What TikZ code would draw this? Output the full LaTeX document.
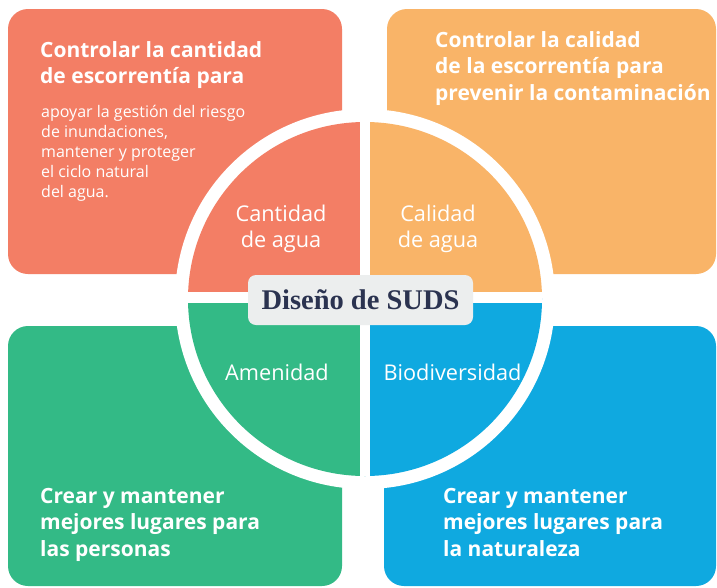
\documentclass[tikz,border=0pt]{standalone}
\usepackage{fontspec}
\setmainfont{Open Sans}
\newfontfamily\titlefont{Liberation Serif}
\definecolor{coral}{HTML}{F37E65}
\definecolor{amber}{HTML}{F9B468}
\definecolor{leaf}{HTML}{33BA86}
\definecolor{sky}{HTML}{0FA9E0}
\definecolor{pale}{HTML}{ECEEEE}
\definecolor{navy}{HTML}{2B3350}
\begin{document}
\begin{tikzpicture}[x=1pt,y=-1pt,
  panel/.style={rounded corners=20pt},
  headtext/.style={text=white, inner sep=0pt, align=left, anchor=base west,
    font=\bfseries\fontsize{21}{26.5}\selectfont},
  bodytext/.style={text=white, inner sep=0pt, align=left, anchor=base west,
    font=\fontsize{16}{20}\selectfont},
  quadtext/.style={text=white, inner sep=0pt, align=center, anchor=base,
    font=\fontsize{21.7}{26}\selectfont},
  titlebox/.style={fill=pale, rounded corners=8pt, minimum width=225pt,
    minimum height=50pt, inner sep=0pt, text=navy,
    font=\titlefont\bfseries\fontsize{28.5}{30}\selectfont}]
\useasboundingbox (0,0) rectangle (717,587);
\fill[white] (0,0) rectangle (717,587);
% outer panels
\fill[coral, panel] (8,9) rectangle (342,274);
\fill[amber, panel] (387,9) rectangle (716,274);
\fill[leaf, panel] (8,326) rectangle (342,586);
\fill[sky, panel] (384,326) rectangle (716,586);
% white ring
\fill[white] (365,299) circle[radius=190];
% quadrants
\begin{scope}
  \clip (365,299) circle[radius=177];
  \fill[coral] (365,298) rectangle (150,100);
  \fill[amber] (365,298) rectangle (580,100);
  \fill[leaf] (365,298) rectangle (150,500);
  \fill[sky] (365,298) rectangle (580,500);
  \fill[white] (360,100) rectangle (370,500);
  \fill[white] (150,292) rectangle (580,303);
\end{scope}
% texts (anchor = baseline of last line)
\node[headtext] (h1) at (40,83.5) {Controlar la cantidad\\de escorrentía para};
\node[bodytext] (b1) at (41,197) {apoyar la gestión del riesgo\\de inundaciones,\\mantener y proteger\\el ciclo natural\\del agua.};
\node[headtext] (h2) at (435,100) {Controlar la calidad\\de la escorrentía para\\prevenir la contaminación};
\node[headtext] (h3) at (40,556) {Crear y mantener\\mejores lugares para\\las personas};
\node[headtext] (h4) at (443,556) {Crear y mantener\\mejores lugares para\\la naturaleza};
\node[quadtext] (q1) at (281,247) {Cantidad\\de agua};
\node[quadtext] (q2) at (438,247) {Calidad\\de agua};
\node[quadtext] (q3) at (277,380) {Amenidad};
\node[quadtext] (q4) at (452.5,380) {Biodiversidad};
\node[titlebox] (title) at (360.5,300) {Diseño de SUDS};
\end{tikzpicture}
\end{document}
